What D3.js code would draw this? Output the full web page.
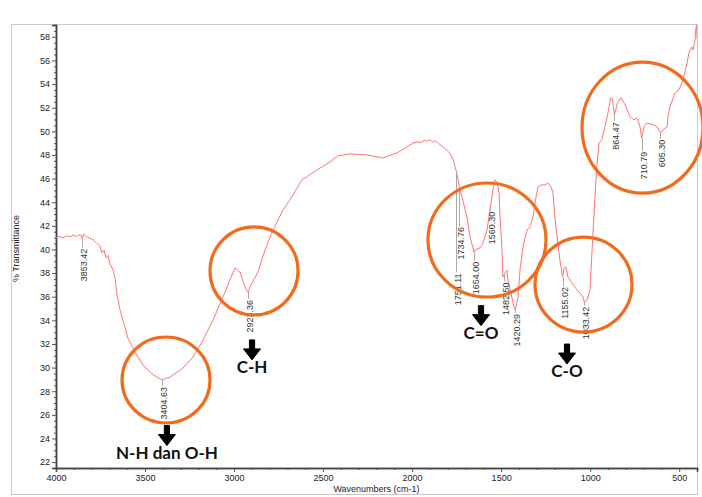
<!DOCTYPE html>
<html>
<head>
<meta charset="utf-8">
<script src="https://cdn.jsdelivr.net/npm/d3@7"></script>
<style>
  body { margin: 0; background: #fff; }
  svg { display: block; }
</style>
</head>
<body>
<div id="chart"></div>
<script>
// spectrum (cm-1 / %T)
const wavenumbers = [4000, 3980, 3960, 3940, 3920, 3900, 3885, 3870, 3860, 3853, 3845, 3830, 3809, 3790, 3770, 3753, 3742, 3730, 3719, 3708, 3697, 3680, 3669, 3657, 3641, 3624, 3596, 3556, 3511, 3455, 3405, 3360, 3287, 3231, 3174, 3118, 3062, 3023, 2995, 2967, 2939, 2923, 2899, 2866, 2826, 2781, 2725, 2686, 2619, 2534, 2461, 2416, 2349, 2253, 2164, 2085, 2029, 1995, 1970, 1950, 1930, 1916, 1900, 1885, 1872, 1850, 1827, 1804, 1787, 1770, 1759, 1751, 1742, 1735, 1720, 1692, 1675, 1658, 1654, 1647, 1619, 1602, 1579, 1563, 1546, 1535, 1523, 1512, 1506, 1495, 1490, 1478, 1467, 1462, 1445, 1428, 1420, 1405, 1394, 1377, 1355, 1338, 1321, 1304, 1293, 1276, 1254, 1237, 1220, 1209, 1198, 1186, 1170, 1155, 1147, 1136, 1125, 1102, 1074, 1057, 1040, 1033, 1018, 1001, 984, 963, 950, 935, 917, 900, 885, 874, 864, 847, 827, 804, 776, 754, 737, 720, 711, 698, 681, 647, 624, 605, 591, 568, 563, 552, 524, 501, 478, 456, 445, 428, 422, 411, 406, 402, 400];
const transmittance = [41.0, 41.1, 41.0, 41.15, 41.1, 41.2, 41.1, 41.25, 41.2, 40.9, 41.3, 41.1, 40.95, 40.8, 40.5, 40.3, 39.7, 39.95, 39.3, 39.5, 38.8, 38.3, 37.6, 36.1, 34.9, 34.0, 32.5, 31.3, 30.2, 29.4, 28.95, 29.2, 29.96, 30.89, 32.33, 34.03, 35.98, 37.42, 38.43, 38.09, 36.82, 36.4, 37.16, 38.09, 39.96, 41.65, 43.34, 44.19, 45.89, 46.73, 47.41, 47.92, 48.09, 48.0, 47.75, 48.17, 48.68, 49.02, 49.1, 49.05, 49.25, 49.15, 49.3, 49.1, 49.2, 48.95, 48.7, 48.4, 48.1, 47.6, 47.0, 46.6, 45.9, 45.3, 44.45, 42.75, 41.06, 40.13, 39.8, 39.95, 40.13, 40.55, 41.65, 43.34, 45.04, 45.89, 45.72, 44.79, 42.75, 39.96, 37.67, 38.01, 38.26, 37.42, 36.31, 35.13, 34.87, 35.98, 38.26, 40.21, 41.65, 41.91, 42.75, 44.45, 45.29, 45.46, 45.46, 45.63, 45.29, 44.79, 42.75, 41.06, 39.11, 37.67, 38.43, 38.52, 37.67, 37.16, 36.57, 36.31, 35.98, 35.55, 35.7, 36.57, 41.48, 46.99, 49.02, 49.27, 50.38, 51.56, 52.83, 52.66, 51.39, 52.41, 52.83, 52.24, 51.22, 50.97, 51.14, 50.38, 49.44, 50.38, 50.71, 50.55, 50.38, 49.87, 50.12, 50.38, 51.22, 52.07, 53.25, 53.51, 54.36, 55.80, 56.64, 57.15, 56.90, 57.74, 58.76, 59.0, 57.8];

// peak picks
const peakPositions = [3853.42, 3404.63, 2923.36, 1751.11, 1734.76, 1654.00, 1560.30, 1482.50, 1420.29, 1155.02, 1033.42, 864.47, 710.79, 605.30];
const peakLabels = ["3853.42", "3404.63", "2923.36", "1751.11", "1734.76", "1654.00", "1560.30", "1482.50", "1420.29", "1155.02", "1033.42", "864.47", "710.79", "605.30"];

// functional group notes
const groupNames = ["N-H dan O-H", "C-H", "C=O", "C-O"];
const groupWavenumbers = [3377, 2899, 1613, 1130];
const groupTransmittance = [22.3, 29.55, 32.45, 29.2];

// highlighted regions (centres)
const circleWavenumbers = [3382, 2888, 1579.5, 1037.5, 706];
const circleTransmittance = [28.95, 38.18, 40.8, 37.03, 50.32];

const xTicks = [4000, 3500, 3000, 2500, 2000, 1500, 1000, 500];
const yTicks = [22, 24, 26, 28, 30, 32, 34, 36, 38, 40, 42, 44, 46, 48, 50, 52, 54, 56, 58];

// ---- layout ----
const W = 702, H = 497;
const plotLeft = 56, plotRight = 697, plotTop = 25, plotBottom = 468;
const peakLeader = [10, 7, 8, 102, 40, 10, 5, 8, 4, 10, 5, 8, 14, 7];
const circleRadii = [[44, 43], [44, 44], [59, 57], [48.5, 47.5], [60.5, 65.5]];
const orange = "#f26b1d";

const x = d3.scaleLinear().domain([4000, 400]).range([plotLeft, plotRight]);
const y = d3.scaleLinear().domain([21.5, 59]).range([plotBottom, plotTop]);

const svg = d3.select("#chart").append("svg")
    .attr("width", W)
    .attr("height", H)
    .style("font-family", "'Liberation Sans', Arial, sans-serif");

// outer frame
svg.append("rect")
    .attr("x", 11.5).attr("y", 24.5)
    .attr("width", 686).attr("height", 470)
    .attr("fill", "none")
    .attr("stroke", "#c9c9c9");

svg.append("defs").append("clipPath").attr("id", "plot")
    .append("rect")
    .attr("x", plotLeft).attr("y", plotTop - 1)
    .attr("width", plotRight - plotLeft).attr("height", plotBottom - plotTop + 1);

// axes
const minorX = d3.range(4000, 399, -100).filter(v => v % 500 !== 0);
const minorY = d3.range(22, 59, 0.5).filter(v => v % 2 !== 0);

function styleAxis(g) {
    g.select(".domain").attr("stroke", "#444").attr("stroke-width", 1.5);
    g.selectAll(".tick line").attr("stroke", "#555");
    g.selectAll(".tick text").attr("fill", "#222").style("font-size", "9px");
}

svg.append("g")
    .attr("transform", `translate(0,${plotBottom})`)
    .call(d3.axisBottom(x).tickValues(minorX).tickSize(2).tickFormat(""))
    .call(styleAxis);
svg.append("g")
    .attr("transform", `translate(0,${plotBottom})`)
    .call(d3.axisBottom(x).tickValues(xTicks).tickSize(4).tickPadding(3).tickFormat(d3.format("d")))
    .call(styleAxis);

svg.append("g")
    .attr("transform", `translate(${plotLeft},0)`)
    .call(d3.axisLeft(y).tickValues(minorY).tickSize(2).tickFormat(""))
    .call(styleAxis);
svg.append("g")
    .attr("transform", `translate(${plotLeft},0)`)
    .call(d3.axisLeft(y).tickValues(yTicks).tickSize(4).tickPadding(2).tickFormat(d3.format("d")))
    .call(styleAxis);

// axis titles
svg.append("text")
    .attr("x", (plotLeft + plotRight) / 2)
    .attr("y", 492)
    .attr("text-anchor", "middle")
    .attr("fill", "#222")
    .style("font-size", "9px")
    .text("Wavenumbers (cm-1)");

svg.append("text")
    .attr("transform", `translate(19,${(plotTop + plotBottom) / 2 + 2}) rotate(-90)`)
    .attr("text-anchor", "middle")
    .attr("fill", "#222")
    .style("font-size", "9px")
    .text("% Transmittance");

// spectrum
const pts = wavenumbers.map((w, i) => [w, transmittance[i]]);
svg.append("path")
    .datum(pts)
    .attr("clip-path", "url(#plot)")
    .attr("fill", "none")
    .attr("stroke", "#ff7474")
    .attr("stroke-width", 1)
    .attr("d", d3.line().x(d => x(d[0])).y(d => y(d[1])));

// %T on the curve at a given wavenumber
function curveAt(w) {
    for (let i = 0; i < wavenumbers.length - 1; i++) {
        const a = wavenumbers[i], b = wavenumbers[i + 1];
        if (w <= a && w >= b) {
            const t = (a - w) / (a - b);
            return transmittance[i] + t * (transmittance[i + 1] - transmittance[i]);
        }
    }
    return transmittance[transmittance.length - 1];
}

// peak labels
const peaks = svg.append("g");
peakPositions.forEach((w, i) => {
    const px = Math.round(x(w)) + 0.5;
    const py = y(curveAt(w));
    const ty = py + peakLeader[i];
    peaks.append("line")
        .attr("x1", px).attr("x2", px)
        .attr("y1", py).attr("y2", ty - 1)
        .attr("stroke", "#aaa")
        .attr("stroke-width", 1);
    peaks.append("text")
        .attr("transform", `translate(${px + 1},${ty}) rotate(-90)`)
        .attr("text-anchor", "end")
        .attr("dy", "0.35em")
        .attr("fill", "#333")
        .style("font-size", "9px")
        .text(peakLabels[i]);
});

// orange circles
svg.append("g").selectAll("ellipse")
    .data(circleWavenumbers)
    .join("ellipse")
    .attr("cx", d => x(d))
    .attr("cy", (d, i) => y(circleTransmittance[i]))
    .attr("rx", (d, i) => circleRadii[i][0])
    .attr("ry", (d, i) => circleRadii[i][1])
    .attr("fill", "none")
    .attr("stroke", orange)
    .attr("stroke-width", 3.2);

// arrows + group names
const notes = svg.append("g");
groupNames.forEach((name, i) => {
    const cx = x(groupWavenumbers[i]);
    const base = y(groupTransmittance[i]);
    const arrow = `M${cx - 2.6},${base - 33} L${cx + 2.6},${base - 33} L${cx + 2.6},${base - 24}` +
        ` L${cx + 8.5},${base - 24} L${cx},${base - 13} L${cx - 8.5},${base - 24} L${cx - 2.6},${base - 24} Z`;
    notes.append("path")
        .attr("d", arrow)
        .attr("fill", "#000")
        .attr("stroke", "#000")
        .attr("stroke-width", 1)
        .attr("stroke-linejoin", "round");
    notes.append("text")
        .attr("x", cx)
        .attr("y", base)
        .attr("text-anchor", "middle")
        .attr("fill", "#111")
        .style("font-family", "Lato, 'Open Sans', sans-serif")
        .style("font-weight", "bold")
        .style("font-size", "17px")
        .text(name);
});
</script>
</body>
</html>
